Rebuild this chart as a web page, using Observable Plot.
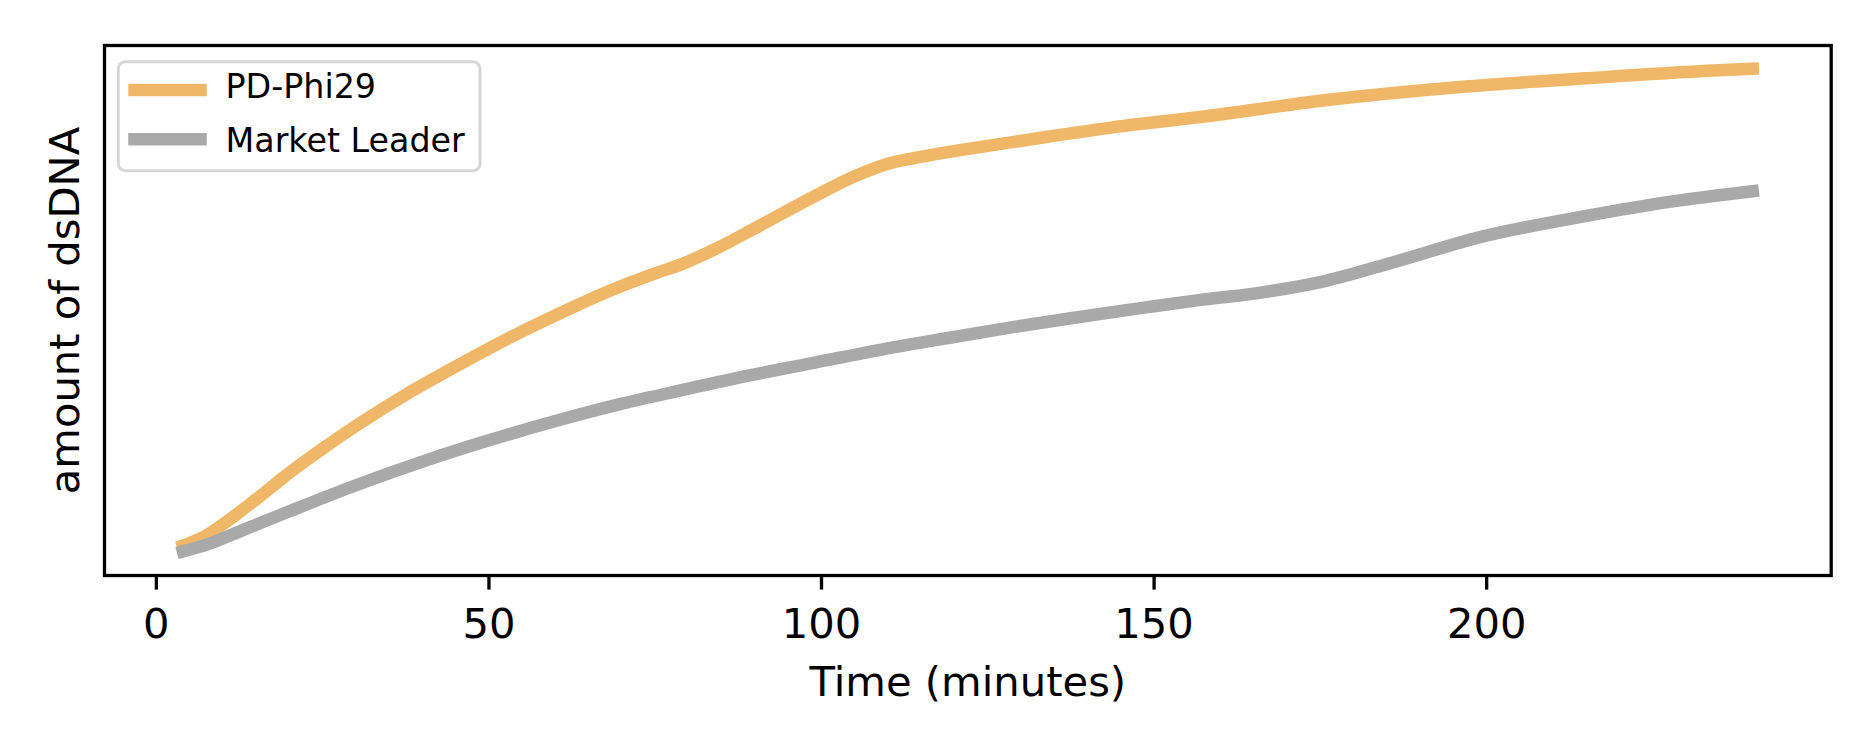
<!DOCTYPE html>
<html>
<head>
<meta charset="utf-8">
<script src="https://cdn.jsdelivr.net/npm/d3@7"></script>
<script src="https://cdn.jsdelivr.net/npm/@observablehq/plot@0.6"></script>
<style>
  html, body { margin: 0; padding: 0; background: white; overflow: hidden; }
  #chart svg { display: block; }
</style>
</head>
<body>
<div id="chart"></div>
<script>
// ---- Data (y in arbitrary units) ----
const seriesNames = ["PD-Phi29", "Market Leader"];
const seriesColors = ["#efb767", "#a9a9a9"];

const phi29Time  = [4, 7, 10, 15, 20, 25, 30, 38, 45, 53, 60, 68, 75, 79, 84, 91, 99, 105, 110, 116, 124, 134, 144, 157, 176, 196, 215, 234, 240];
const phi29Value = [1.2, 2.9, 5.6, 10.8, 16.3, 21.3, 26.0, 32.9, 38.3, 44.2, 48.9, 53.9, 57.6, 59.5, 62.6, 67.7, 73.6, 77.7, 80.3, 82.0, 83.8, 85.9, 87.9, 90.0, 93.5, 96.2, 98.0, 99.6, 100.0];

const leaderTime  = [4, 8, 13, 20, 30, 40, 50, 60, 70, 79, 89, 99, 109, 119, 129, 139, 149, 157, 165, 176, 186, 199, 215, 228, 240];
const leaderValue = [0.0, 1.6, 4.4, 8.3, 13.7, 18.6, 23.0, 27.0, 30.6, 33.4, 36.4, 39.1, 41.8, 44.2, 46.5, 48.6, 50.6, 52.1, 53.4, 56.1, 59.9, 65.1, 69.5, 72.5, 74.6];

const xTicks = [0, 50, 100, 150, 200];
const xLabel = "Time (minutes)";
const yLabel = "amount of dsDNA";

// ---- Build tables ----
const phi29 = phi29Time.map((t, i) => ({t, v: phi29Value[i]}));
const leader = leaderTime.map((t, i) => ({t, v: leaderValue[i]}));

const W = 1875, H = 750;
const mL = 104, mR = 44.3, mT = 45, mB = 175;
const lw = 12.5;

const chart = Plot.plot({
  width: W,
  height: H,
  marginLeft: mL,
  marginRight: mR,
  marginTop: mT,
  marginBottom: mB,
  style: {fontFamily: "DejaVu Sans", fontSize: "41.7px", background: "white", color: "black", overflow: "visible"},
  x: {domain: [-7.8, 251.8]},
  y: {domain: [-5, 104.8], axis: null},
  marks: [
    Plot.line(phi29, {x: "t", y: "v", stroke: seriesColors[0], strokeWidth: lw, strokeLinecap: "square", strokeLinejoin: "round", curve: "monotone-x"}),
    Plot.line(leader, {x: "t", y: "v", stroke: seriesColors[1], strokeWidth: lw, strokeLinecap: "square", strokeLinejoin: "round", curve: "monotone-x"}),
    Plot.frame({stroke: "black", strokeWidth: 3.3}),
    Plot.axisX({ticks: xTicks, tickSize: 14.6, tickPadding: 18, strokeWidth: 3.3, stroke: "black", fontSize: 41.7, label: null}),
    Plot.text([xLabel], {frameAnchor: "bottom", text: d => d, lineAnchor: "top", dy: 90.4, fontSize: 41.7, fill: "black"}),
    Plot.text([yLabel], {frameAnchor: "left", text: d => d, rotate: -90, lineAnchor: "top", textAnchor: "middle", dx: -55.6, fontSize: 41.7, fill: "black"})
  ]
});

document.getElementById("chart").appendChild(chart);

// ---- Legend (matplotlib-style, upper left inside frame) ----
const svg = d3.select(chart);
const lg = svg.append("g").attr("class", "legend");
lg.append("rect")
  .attr("x", 118.3).attr("y", 61.7)
  .attr("width", 480 - 118.3).attr("height", 170.7 - 61.7)
  .attr("rx", 7).attr("ry", 7)
  .attr("fill", "white").attr("fill-opacity", 0.8)
  .attr("stroke", "#d6d6d6").attr("stroke-width", 3);
const rows = [90, 139.3];
const baselines = [98.3, 151.7];
seriesNames.forEach((name, i) => {
  lg.append("line")
    .attr("x1", 134.5).attr("x2", 200.5)
    .attr("y1", rows[i]).attr("y2", rows[i])
    .attr("stroke", seriesColors[i]).attr("stroke-width", lw)
    .attr("stroke-linecap", "square");
  lg.append("text")
    .attr("x", 225.5).attr("y", baselines[i])
    .attr("text-anchor", "start")
    .attr("font-family", "DejaVu Sans").attr("font-size", 33.3)
    .attr("fill", "black")
    .text(name);
});
</script>
</body>
</html>
